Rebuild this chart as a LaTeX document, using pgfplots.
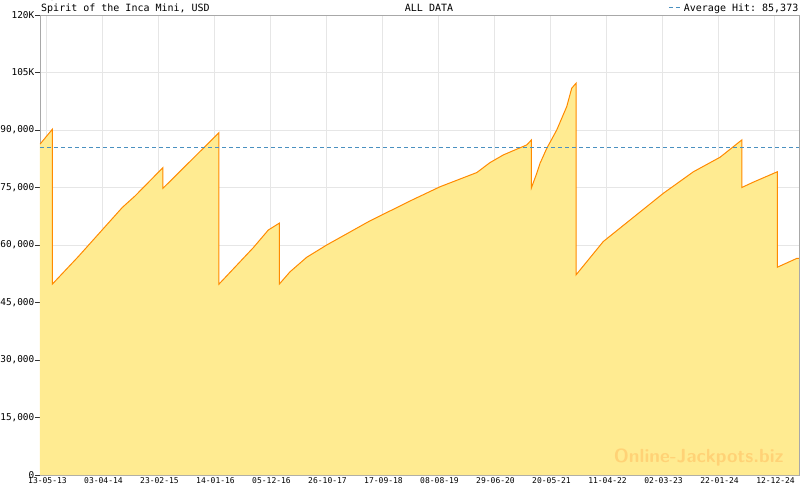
\documentclass[border=0pt]{standalone}
\usepackage{pgfplots}
\pgfplotsset{compat=1.18}
\usepackage{pgfplotstable}
\usepackage{fontspec}
\setmainfont{Liberation Sans}
\setmonofont{DejaVu Sans Mono}

\definecolor{fillc}{RGB}{255,235,145}
\definecolor{linec}{RGB}{255,138,0}
\definecolor{gridc}{RGB}{230,230,230}
\definecolor{axisc}{RGB}{168,168,168}
\definecolor{avgc}{RGB}{74,144,192}
\definecolor{wmc}{RGB}{255,210,118}

% days since 13-05-13, jackpot in USD
\pgfplotstableread{
day value
-34.8 86300
37 90200
37 49800
188 57000
443 69800
517 72800
679 80200
679 74800
1004 89300
1004 49800
1203 59300
1290 63900
1354 65700
1354 49800
1416 53000
1513 56800
1629 60000
1880 66300
2132 71900
2287 75200
2500 78900
2577 81500
2654 83500
2732 85000
2790 86100
2817 87400
2817 74900
2848 78700
2867 81300
2906 85200
2964 90000
3022 96100
3051 100900
3076 102200
3076 52200
3234 60900
3389 66500
3583 73500
3757 79100
3912 82900
4038 87400
4038 75000
4105 76400
4244 79100
4244 54200
4357 56500
4370 56500
}\jackpot

\begin{document}
\begin{tikzpicture}
\useasboundingbox (-40pt,-15pt) rectangle (760pt,475pt);
\begin{axis}[
  scale only axis,
  width=759pt, height=460pt,
  xmin=-34.8, xmax=4370,
  ymin=0, ymax=120000,
  axis line style={axisc},
  xtick={0,325,...,4225},
  xticklabels={13-05-13,03-04-14,23-02-15,14-01-16,05-12-16,26-10-17,17-09-18,08-08-19,29-06-20,20-05-21,11-04-22,02-03-23,22-01-24,12-12-24},
  minor xtick={0,46.4286,...,4370},
  ytick={0,15000,...,120000},
  yticklabels={0,{15,000},{30,000},{45,000},{60,000},{75,000},{90,000},105K,120K},
  xtick align=inside, ytick align=outside,
  major tick length=5pt, minor tick length=3.5pt,
  x tick style={axisc, line width=0.8pt},
  y tick style={black!80, line width=0.8pt},
  minor x tick style={axisc, line width=0.8pt},
  ytick pos=left, xtick pos=bottom,
  xmajorgrids, ymajorgrids,
  grid style={gridc, line width=0.8pt},
  xticklabel style={font=\ttfamily\fontsize{8}{9}\selectfont, yshift=-1.5pt, xshift=1.5pt, inner sep=0.5pt},
  yticklabel style={font=\ttfamily\fontsize{9.4}{11}\selectfont, anchor=east, inner sep=0pt, xshift=-0.5pt},
  /pgf/number format/assume math mode=true,
  legend style={at={(1,1)}, anchor=east, xshift=1pt, yshift=7pt,
    draw=none, fill=none, inner sep=0pt,
    font=\ttfamily\fontsize{10}{11}\selectfont,
    nodes={inner sep=1.5pt}},
  legend image code/.code={\draw[#1] (0pt,0pt) -- (13pt,0pt);},
]
\addplot[fill=fillc, draw=none, forget plot] table[x=day, y=value] {\jackpot} \closedcycle;
\addplot[linec, line width=1pt, forget plot] table[x=day, y=value] {\jackpot};
\addplot[avgc, line width=1pt, dash pattern=on 4pt off 3pt] coordinates {(-34.8,85373) (4370,85373)};
\addlegendentry{Average Hit: 85,373}
\node[font=\sffamily\bfseries\fontsize{19}{20}\selectfont, text=wmc] at (rel axis cs:0.868,0.038) {Online-Jackpots.biz};
\end{axis}
\draw[axisc, line width=0.8pt] (0,460pt) -- (759pt,460pt) -- (759pt,0);
\node[font=\ttfamily\fontsize{10}{11}\selectfont, anchor=base west, inner sep=0pt] at (1pt,463pt) {Spirit of the Inca Mini, USD};
\node[font=\ttfamily\fontsize{10}{11}\selectfont, anchor=base, inner sep=0pt] at (389pt,463pt) {ALL DATA};
\end{tikzpicture}
\end{document}
